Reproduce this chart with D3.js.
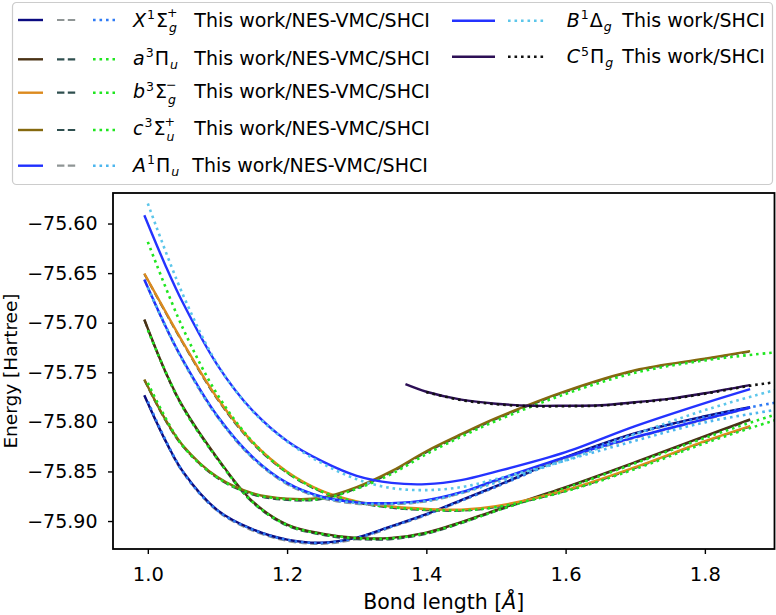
<!DOCTYPE html>
<html><head><meta charset="utf-8">
<script src="https://cdn.jsdelivr.net/npm/d3@7/dist/d3.min.js"></script>
<style>
body{margin:0;background:#fff;}
svg text{font-family:"DejaVu Sans",sans-serif;fill:#000;white-space:pre;}
</style></head><body>
<svg id="chart" width="776" height="615"></svg>
<script>
// ---------------- data ----------------
const rThis  = [0.995, 1.025, 1.05, 1.1, 1.15, 1.2, 1.25, 1.3, 1.35, 1.4, 1.45, 1.5, 1.6, 1.7, 1.8, 1.865];
const rSHCI  = [1.0, 1.05, 1.1, 1.15, 1.2, 1.25, 1.3, 1.35, 1.4, 1.45, 1.5, 1.6, 1.7, 1.8, 1.9, 1.95];
const rC     = [1.37, 1.4, 1.45, 1.5, 1.55, 1.6, 1.65, 1.7, 1.75, 1.8, 1.865];
const rCSHCI = [1.4, 1.45, 1.5, 1.55, 1.6, 1.65, 1.7, 1.75, 1.8, 1.865, 1.9, 1.95];

// This work
const X_this = [-75.7731, -75.8184, -75.8497, -75.8890, -75.9082, -75.9187, -75.9218, -75.9167, -75.9051, -75.8930, -75.8789, -75.8648, -75.8356, -75.8114, -75.7943, -75.7852];
const a_this = [-75.6968, -75.7489, -75.7842, -75.8366, -75.8799, -75.9036, -75.9127, -75.9170, -75.9170, -75.9117, -75.9011, -75.8890, -75.8658, -75.8406, -75.8144, -75.7976];
const b_this = [-75.6504, -75.6884, -75.7193, -75.7762, -75.8201, -75.8503, -75.8696, -75.8801, -75.8854, -75.8878, -75.8885, -75.8850, -75.8689, -75.8457, -75.8195, -75.8043];
const c_this = [-75.7573, -75.7973, -75.8235, -75.8557, -75.8719, -75.8774, -75.8764, -75.8658, -75.8497, -75.8296, -75.8124, -75.7963, -75.7690, -75.7479, -75.7363, -75.7287];
const A_this = [-75.6565, -75.7028, -75.7371, -75.7941, -75.8351, -75.8615, -75.8755, -75.8812, -75.8819, -75.8789, -75.8709, -75.8588, -75.8356, -75.8154, -75.7973, -75.7855];
const B_this = [-75.5916, -75.6417, -75.6794, -75.7427, -75.7883, -75.8193, -75.8396, -75.8544, -75.8615, -75.8628, -75.8588, -75.8502, -75.8305, -75.8043, -75.7811, -75.7670];
const C_this = [-75.7620, -75.7696, -75.7776, -75.7817, -75.7837, -75.7837, -75.7832, -75.7802, -75.7766, -75.7711, -75.7630];

// NES-VMC
const X_nes = [-75.7735, -75.8190, -75.8505, -75.8900, -75.9095, -75.9200, -75.9230, -75.9180, -75.9062, -75.8940, -75.8798, -75.8655, -75.8362, -75.8120, -75.7948, -75.7856];
const a_nes = [-75.6972, -75.7495, -75.7850, -75.8375, -75.8809, -75.9046, -75.9138, -75.9182, -75.9182, -75.9128, -75.9021, -75.8899, -75.8665, -75.8412, -75.8150, -75.7980];
const b_nes = [-75.6508, -75.6890, -75.7200, -75.7771, -75.8211, -75.8513, -75.8707, -75.8813, -75.8866, -75.8889, -75.8895, -75.8859, -75.8697, -75.8464, -75.8200, -75.8048];
const c_nes = [-75.7577, -75.7980, -75.8243, -75.8567, -75.8731, -75.8788, -75.8778, -75.8670, -75.8508, -75.8306, -75.8133, -75.7971, -75.7697, -75.7485, -75.7368, -75.7291];
const A_nes = [-75.6570, -75.7035, -75.7380, -75.7952, -75.8363, -75.8629, -75.8769, -75.8826, -75.8832, -75.8801, -75.8720, -75.8598, -75.8364, -75.8160, -75.7977, -75.7859];

// SHCI
const X_shci = [-75.7794, -75.8500, -75.8893, -75.9085, -75.9190, -75.9221, -75.9170, -75.9055, -75.8935, -75.8795, -75.8655, -75.8365, -75.8120, -75.7950, -75.7808, -75.7760];
const a_shci = [-75.7075, -75.7850, -75.8372, -75.8805, -75.9040, -75.9131, -75.9173, -75.9174, -75.9122, -75.9018, -75.8898, -75.8668, -75.8418, -75.8162, -75.7930, -75.7830];
const b_shci = [-75.6185, -75.7050, -75.7725, -75.8196, -75.8509, -75.8702, -75.8808, -75.8861, -75.8886, -75.8893, -75.8860, -75.8700, -75.8475, -75.8215, -75.7985, -75.7880];
const c_shci = [-75.7607, -75.8240, -75.8562, -75.8725, -75.8780, -75.8775, -75.8675, -75.8525, -75.8325, -75.8150, -75.7990, -75.7718, -75.7505, -75.7380, -75.7300, -75.7270];
const A_shci = [-75.6645, -75.7378, -75.7948, -75.8357, -75.8622, -75.8762, -75.8818, -75.8825, -75.8799, -75.8718, -75.8612, -75.8390, -75.8190, -75.8005, -75.7880, -75.7820];
const B_shci = [-75.5798, -75.6710, -75.7420, -75.7888, -75.8198, -75.8417, -75.8578, -75.8668, -75.8688, -75.8658, -75.8577, -75.8386, -75.8124, -75.7882, -75.7680, -75.7590];
const C_shci = [-75.7700, -75.7780, -75.7822, -75.7842, -75.7842, -75.7836, -75.7806, -75.7770, -75.7716, -75.7635, -75.7600, -75.7540];

const xTicks = [1.0, 1.2, 1.4, 1.6, 1.8];
const yTicks = [-75.60, -75.65, -75.70, -75.75, -75.80, -75.85, -75.90];

// ---------------- series table ----------------
const solidSty = {dash: null, w: 2.4, z: 1};
const dashSty  = {dash: "7.4,3.4", w: 2.2, z: 0};
const dotSty   = {dash: "2.6,3.9", w: 2.6, z: 2};

const states = [
  {math:[{t:"X",i:1},{sup:"1"},{t:"Σ"},{sub:"g",sup:"+"}], textX:194.3, col:0,
   series:[{r:rThis,v:X_this,c:"#0b0b80",s:solidSty},{r:rThis,v:X_nes,c:"#8f9595",s:dashSty},{r:rSHCI,v:X_shci,c:"#2f7bf5",s:dotSty}]},
  {math:[{t:"a",i:1},{sup:"3"},{t:"Π"},{sub:"u"}], textX:194.3, col:0,
   series:[{r:rThis,v:a_this,c:"#4a3215",s:solidSty},{r:rThis,v:a_nes,c:"#2f4f4f",s:dashSty},{r:rSHCI,v:a_shci,c:"#1fe61f",s:dotSty}]},
  {math:[{t:"b",i:1},{sup:"3"},{t:"Σ"},{sub:"g",sup:"−"}], textX:194.3, col:0,
   series:[{r:rThis,v:b_this,c:"#dc8a1e",s:solidSty},{r:rThis,v:b_nes,c:"#2f4f4f",s:dashSty},{r:rSHCI,v:b_shci,c:"#1fe61f",s:dotSty}]},
  {math:[{t:"c",i:1},{sup:"3"},{t:"Σ"},{sub:"u",sup:"+"}], textX:194.3, col:0,
   series:[{r:rThis,v:c_this,c:"#85690f",s:solidSty},{r:rThis,v:c_nes,c:"#2f4f4f",s:dashSty},{r:rSHCI,v:c_shci,c:"#1fe61f",s:dotSty}]},
  {math:[{t:"A",i:1},{sup:"1"},{t:"Π"},{sub:"u"}], textX:192.3, col:0,
   series:[{r:rThis,v:A_this,c:"#1f2fff",s:solidSty},{r:rThis,v:A_nes,c:"#8f9595",s:dashSty},{r:rSHCI,v:A_shci,c:"#4cb6ee",s:dotSty}]},
  {math:[{t:"B",i:1},{sup:"1"},{t:"Δ"},{sub:"g"}], textX:622.3, col:1,
   series:[{r:rThis,v:B_this,c:"#2433ff",s:solidSty},{r:rSHCI,v:B_shci,c:"#5cc6ea",s:dotSty}]},
  {math:[{t:"C",i:1},{sup:"5"},{t:"Π"},{sub:"g"}], textX:622.3, col:1,
   series:[{r:rC,v:C_this,c:"#2c0f55",s:solidSty},{r:rCSHCI,v:C_shci,c:"#111111",s:dotSty}]}
];
const labelTail = ["This work/NES-VMC/SHCI","This work/NES-VMC/SHCI","This work/NES-VMC/SHCI","This work/NES-VMC/SHCI","This work/NES-VMC/SHCI","This work/SHCI","This work/SHCI"];

// ---------------- layout ----------------
const PL = 113, PR = 774.5, PT = 193, PB = 549;
const FS = 19;
const svg = d3.select("#chart");
const x = d3.scaleLinear().domain([0.95, 1.9]).range([PL, PR]);
const y = d3.scaleLinear().domain([-75.9282, -75.5692]).range([PB, PT]);

svg.append("defs").append("clipPath").attr("id","clip")
  .append("rect").attr("x",PL).attr("y",PT).attr("width",PR-PL).attr("height",PB-PT);

const line = d3.line().x(d=>x(d[0])).y(d=>y(d[1])).curve(d3.curveCatmullRom.alpha(0.5));
const plot = svg.append("g").attr("clip-path","url(#clip)");
states.forEach(st => {
  st.series.slice().sort((p,q)=>p.s.z-q.s.z).forEach(se => {
    const pts = se.r.map((r,i)=>[r, se.v[i]]);
    plot.append("path").attr("d", line(pts)).attr("fill","none")
      .attr("stroke", se.c).attr("stroke-width", se.s.w)
      .attr("stroke-dasharray", se.s.dash);
  });
});

// axes
const xAxis = d3.axisBottom(x).tickValues(xTicks).tickFormat(d3.format(".1f")).tickSize(5).tickPadding(13);
const yAxis = d3.axisLeft(y).tickValues(yTicks).tickFormat(d => d3.format(".2f")(d).replace("-","−")).tickSize(5).tickPadding(10.5);
const gx = svg.append("g").attr("transform",`translate(0,${PB})`).call(xAxis);
const gy = svg.append("g").attr("transform",`translate(${PL},0)`).call(yAxis);
[gx,gy].forEach(g=>{
  g.select(".domain").remove();
  g.selectAll(".tick line").attr("stroke","#000").attr("stroke-width",1.4);
  g.selectAll(".tick text").attr("font-family","DejaVu Sans").attr("fill","#000");
});
gx.selectAll(".tick text").attr("font-size",19.5);
gy.selectAll(".tick text").attr("font-size",19);
svg.append("rect").attr("x",PL).attr("y",PT).attr("width",PR-PL).attr("height",PB-PT)
  .attr("fill","none").attr("stroke","#000").attr("stroke-width",1.8);

// axis labels
svg.append("text").attr("x",(PL+PR)/2).attr("y",609).attr("text-anchor","middle")
  .attr("font-size",20.5).html('Bond length [<tspan font-style="italic">Å</tspan>]');
svg.append("text").attr("transform",`translate(17,${(PT+PB)/2}) rotate(-90)`).attr("text-anchor","middle")
  .attr("font-size",18.5).text("Energy [Hartree]");

// ---------------- legend ----------------
const leg = svg.append("g");
leg.append("rect").attr("x",12.5).attr("y",2.5).attr("width",760).attr("height",182).attr("rx",4)
  .attr("fill","#fff").attr("fill-opacity",0.8).attr("stroke","#cccccc").attr("stroke-width",1.2);

const rowY = [[20,59.3,92.7,130,165.7],[20.7,56.7]];
const baseOff = [[6.7,5.7,5.6,5,6],[6,6.6]];
const col = [
  {text:133, handles:[[18,43],[57,78],[93,115]]},
  {text:566.7, handles:[[452,495],[508,547]]}
];
const idx = [0,0];

// math label as a single text element with tspans
function mathText(g, x0, yb, parts, size){
  const t = g.append("text").attr("x",x0).attr("y",yb).attr("font-size",size);
  const ss = size*0.66;
  let cur = 0;
  const add = (txt, shift, fs, italic, opts={}) => {
    const sp = t.append("tspan").attr("dy", shift-cur).attr("font-size",fs)
      .attr("font-style", italic ? "italic" : "normal").text(txt);
    if (opts.x !== undefined) sp.attr("x", opts.x);
    if (opts.dx !== undefined) sp.attr("dx", opts.dx);
    cur = shift;
    return sp;
  };
  parts.forEach(p=>{
    if (p.t !== undefined){
      add(p.t, 0, size, !!p.i, {dx:1});
    } else if (p.sub && p.sup){
      const adv = t.node().getComputedTextLength();
      add(p.sub, 5.5, ss, true, {dx:1});
      add(p.sup, -9.5, ss, false, {x: x0 + adv + 2});
    } else if (p.sup){
      add(p.sup, -7.8, ss, false, {dx:1});
    } else if (p.sub){
      add(p.sub, 3.8, ss, true, {dx:1});
    }
  });
  return t;
}

states.forEach((st,k)=>{
  const c = st.col, r = idx[c]++;
  const yc = rowY[c][r];
  const C = col[c];
  st.series.forEach((se,j)=>{
    const h = C.handles[j];
    leg.append("line").attr("x1",h[0]).attr("x2",h[1]).attr("y1",yc).attr("y2",yc)
      .attr("stroke",se.c).attr("stroke-width",se.s.w).attr("stroke-dasharray",se.s.dash);
  });
  const yb = yc + baseOff[c][r];
  mathText(leg, C.text - 1, yb, st.math, FS);
  leg.append("text").attr("x",st.textX).attr("y",yb).attr("font-size",FS).text(labelTail[k]);
});
</script>
</body></html>
